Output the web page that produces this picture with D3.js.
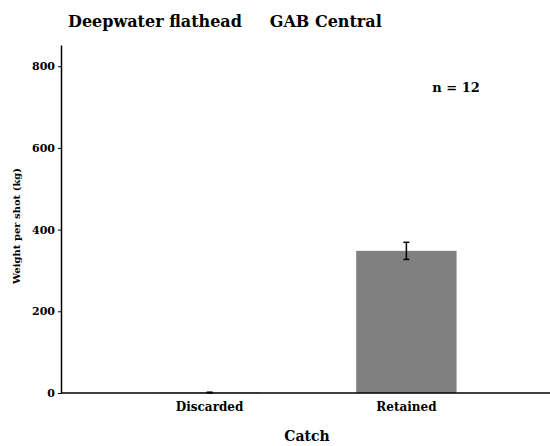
<!DOCTYPE html>
<html><head><meta charset="utf-8">
<script src="https://cdn.jsdelivr.net/npm/d3@7"></script>
<style>body{margin:0;background:#fff}svg text{font-family:"DejaVu Serif",serif;font-weight:bold;fill:#000}</style>
</head><body>
<svg id="c" width="550" height="446"></svg>
<script>
const categories = ["Discarded", "Retained"];
const means = [1, 348];
const errors = [1, 21];
const yTicks = [0, 200, 400, 600, 800];
const titleText = "Deepwater flathead\u00a0\u00a0\u00a0\u00a0\u00a0GAB Central";
const nLabel = "n = 12";

const svg = d3.select("#c");
const m = {l: 61, r: 0, t: 45, b: 53};
const W = 550, H = 446;
const x = d3.scaleBand().domain(categories).range([m.l + 2, W + 3]).paddingInner(0.49).paddingOuter(0.49);
const y = d3.scaleLinear().domain([0, 852]).range([H - m.b, m.t]);

svg.selectAll("rect.bar").data(categories).enter().append("rect")
  .attr("x", d => x(d)).attr("width", x.bandwidth())
  .attr("y", (d,i) => y(means[i])).attr("height", (d,i) => y(0) - y(means[i]))
  .attr("fill", "#808080");

const eb = svg.append("g").attr("stroke", "#000").attr("stroke-width", 1.5);
categories.forEach((c,i) => {
  const cx = x(c) + x.bandwidth()/2;
  eb.append("line").attr("x1", cx).attr("x2", cx).attr("y1", y(means[i]-errors[i])).attr("y2", y(means[i]+errors[i]));
  eb.append("line").attr("x1", cx-3).attr("x2", cx+3).attr("y1", y(means[i]-errors[i])).attr("y2", y(means[i]-errors[i]));
  eb.append("line").attr("x1", cx-3).attr("x2", cx+3).attr("y1", y(means[i]+errors[i])).attr("y2", y(means[i]+errors[i]));
});

const ya = svg.append("g").attr("transform", `translate(${m.l},0)`)
  .call(d3.axisLeft(y).tickValues(yTicks).tickSize(3).tickSizeOuter(0).tickPadding(3));
ya.select(".domain").attr("stroke-width", 1.5);
ya.selectAll("text").style("font-size", "11px");

const xa = svg.append("g").attr("transform", `translate(0,${y(0)})`)
  .call(d3.axisBottom(x).tickSize(0).tickPadding(9));
xa.select(".domain").attr("d", `M${m.l},0H${W}`).attr("stroke-width", 1.5);
xa.selectAll("text").style("font-size", "12px");

svg.append("text").attr("x", 68).attr("y", 27).style("font-size", "16px").text(titleText);
svg.append("text").attr("x", 307).attr("y", 441).attr("text-anchor", "middle").style("font-size", "14px").text("Catch");
svg.append("text").attr("transform", "translate(20,226) rotate(-90)").attr("text-anchor", "middle").style("font-size", "10px").text("Weight per shot (kg)");
svg.append("text").attr("x", 456).attr("y", 92).attr("text-anchor", "middle").style("font-size", "13px").text(nLabel);
</script>
</body></html>
